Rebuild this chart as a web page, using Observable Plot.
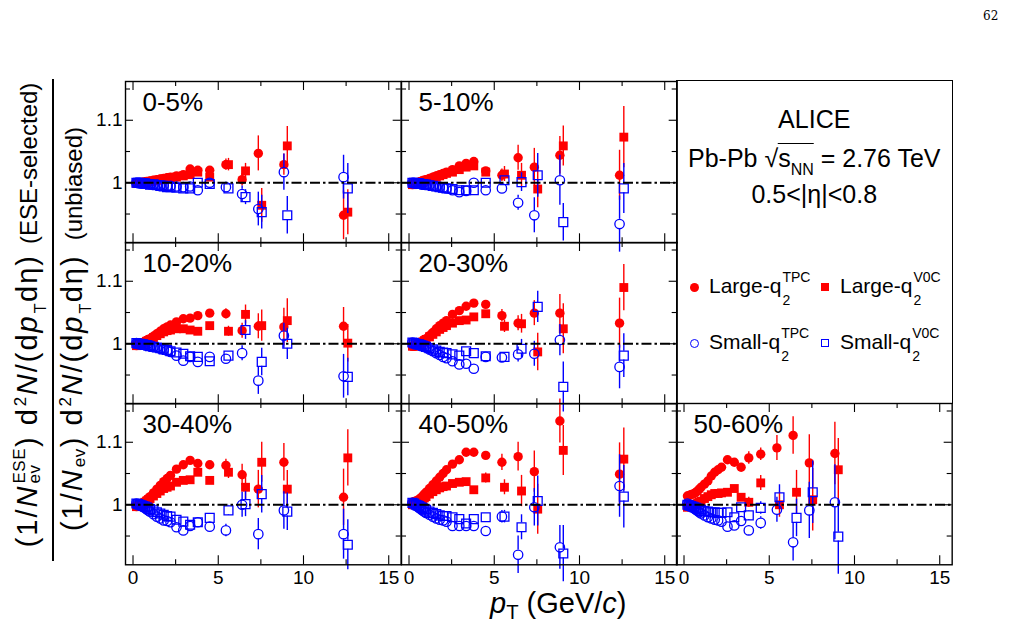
<!DOCTYPE html>
<html>
<head>
<meta charset="utf-8">
<script src="https://cdn.jsdelivr.net/npm/d3@7"></script>
<script src="https://cdn.jsdelivr.net/npm/@observablehq/plot@0.6"></script>
<style>
  html, body { margin: 0; padding: 0; background: #fff; }
  #figure { position: relative; width: 1018px; height: 637px; overflow: hidden;
    font-family: "Liberation Sans", Arial, Helvetica, sans-serif; color: #000; }
  .panel { position: absolute; }
  .panel svg { overflow: visible; display: block; }
  .txt { position: absolute; white-space: nowrap; }
  .stk { position: relative; display: inline-block; width: 0; height: 16px; }
  .stk .sp, .stk .sb { position: absolute; left: 1px; font-size: 14px; line-height: 14px; }
  .stk .sp { top: -7px; }
  .stk .sb { top: 16px; }
  .ovl { border-top: 1.4px solid #000; }
  .nn { font-size: 16px; line-height: 0; vertical-align: -8px; }
  .sym { position: absolute; box-sizing: border-box; }
  .ytitle { position: absolute; white-space: nowrap; font-size: 24px; line-height: 24px;
    transform: translate(-50%, -50%) rotate(-90deg); }
  .ytitle .m { font-size: 29px; letter-spacing: 2px; }
  .ytitle .gap { display: inline-block; width: 10px; }
  .ytitle .gap2 { display: inline-block; width: 14px; }
  .ytitle sup, .ytitle sub { line-height: 0; margin: 0 1px; letter-spacing: 0.5px; }
  .ytitle sup { font-size: 17px; vertical-align: 11px; }
  .ytitle sub { font-size: 16px; vertical-align: -9px; }
  .ytitle sub.ev { font-size: 17px; vertical-align: -3px; }
  .ss { display: inline-flex; flex-direction: column; font-size: 17px; line-height: 15px; vertical-align: 12px; letter-spacing: 0.5px; margin: 0 1px; }
  .xtitle sub { font-size: 0.7em; line-height: 0; vertical-align: -0.32em; }
  .fracbar { position: absolute; background: #000; }
  .pageno { position: absolute; font-family: "DejaVu Serif", "Liberation Serif", serif; font-size: 12px; }
</style>
</head>
<body>
<div id="figure"></div>
<script>
// pT bin positions (GeV/c) of the two event-shape selections
const pTBinsTPC = [0.2,0.3,0.4,0.5,0.6,0.7,0.8,0.9,1.0,1.2,1.4,1.6,1.8,2.0,2.2,2.55,2.95,3.35,3.8,4.5,5.45,6.4,7.35,8.85,12.35];
const pTBinsV0C = [0.2,0.3,0.4,0.5,0.6,0.7,0.8,0.9,1.0,1.2,1.4,1.6,1.8,2.0,2.2,2.55,2.95,3.35,3.8,4.5,5.6,6.6,7.55,9.05,12.6];

const centralityClasses = ["0-5%", "5-10%", "10-20%", "20-30%", "30-40%", "40-50%", "50-60%"];

// Spectrum ratios (ESE-selected / unbiased) and their uncertainties
const cent0_5 = {
  largeTPC:    [0.999,0.999,1.000,1.000,1.001,1.001,1.002,1.002,1.003,1.004,1.005,1.006,1.007,1.008,1.009,1.011,1.013,1.022,1.020,1.020,1.029,1.005,1.047,1.029,0.948],
  largeTPCErr: [0.001,0.001,0.001,0.001,0.001,0.001,0.001,0.001,0.001,0.001,0.001,0.001,0.001,0.001,0.002,0.002,0.002,0.003,0.003,0.004,0.009,0.010,0.028,0.017,0.039],
  largeV0C:    [0.999,0.999,0.999,1.000,1.000,1.001,1.001,1.002,1.002,1.003,1.004,1.005,1.006,1.007,1.008,1.009,1.011,1.013,1.017,1.009,1.029,1.019,0.964,1.059,0.953],
  largeV0CErr: [0.001,0.001,0.001,0.001,0.001,0.001,0.001,0.001,0.001,0.001,0.001,0.001,0.001,0.001,0.002,0.002,0.002,0.003,0.003,0.004,0.010,0.012,0.027,0.031,0.036],
  smallTPC:    [1.000,1.000,1.000,0.999,0.999,0.999,0.998,0.998,0.998,0.997,0.997,0.996,0.996,0.995,0.995,0.994,0.993,0.994,0.988,1.000,0.993,0.982,0.958,1.017,1.009],
  smallTPCErr: [0.001,0.001,0.001,0.001,0.001,0.001,0.001,0.001,0.001,0.001,0.001,0.001,0.001,0.001,0.002,0.002,0.002,0.003,0.003,0.003,0.008,0.013,0.027,0.029,0.035],
  smallV0C:    [1.000,1.000,1.000,0.999,0.999,0.999,0.998,0.998,0.997,0.997,0.996,0.995,0.994,0.993,0.993,0.992,0.991,0.991,1.000,0.998,0.991,0.977,0.953,0.948,0.991],
  smallV0CErr: [0.001,0.001,0.001,0.001,0.001,0.001,0.001,0.001,0.001,0.001,0.001,0.001,0.001,0.001,0.002,0.002,0.002,0.003,0.003,0.003,0.005,0.012,0.027,0.030,0.040]
};
const cent5_10 = {
  largeTPC:    [0.997,0.998,0.999,1.000,1.001,1.002,1.003,1.004,1.005,1.007,1.009,1.011,1.013,1.015,1.017,1.021,1.027,1.031,1.034,1.019,1.012,1.040,1.025,1.044,1.012],
  largeTPCErr: [0.001,0.001,0.001,0.001,0.001,0.001,0.001,0.001,0.001,0.001,0.001,0.001,0.001,0.001,0.002,0.002,0.003,0.003,0.004,0.005,0.010,0.020,0.030,0.030,0.040],
  largeV0C:    [0.997,0.998,0.998,0.999,1.000,1.001,1.002,1.003,1.004,1.005,1.007,1.009,1.011,1.013,1.015,1.017,1.021,1.025,1.027,1.017,1.014,1.012,0.990,1.059,1.073],
  largeV0CErr: [0.001,0.001,0.001,0.001,0.001,0.001,0.001,0.001,0.001,0.001,0.001,0.001,0.001,0.001,0.002,0.002,0.003,0.003,0.004,0.005,0.012,0.019,0.030,0.032,0.049],
  smallTPC:    [1.000,1.000,0.999,0.999,0.999,0.998,0.998,0.997,0.997,0.996,0.995,0.994,0.993,0.992,0.991,0.988,0.985,0.987,1.000,0.988,0.991,0.968,0.948,1.004,0.934],
  smallTPCErr: [0.001,0.001,0.001,0.001,0.001,0.001,0.001,0.001,0.001,0.001,0.001,0.001,0.001,0.001,0.002,0.002,0.003,0.003,0.004,0.004,0.007,0.012,0.028,0.040,0.045],
  smallV0C:    [1.000,1.000,0.999,0.999,0.999,0.998,0.998,0.997,0.997,0.996,0.995,0.994,0.993,0.992,0.991,0.990,0.988,0.988,0.988,1.000,1.004,1.001,1.012,0.937,0.991],
  smallV0CErr: [0.001,0.001,0.001,0.001,0.001,0.001,0.001,0.001,0.001,0.001,0.001,0.001,0.001,0.001,0.002,0.002,0.003,0.003,0.004,0.004,0.006,0.015,0.035,0.030,0.040]
};
const cent10_20 = {
  largeTPC:    [0.997,0.998,0.999,1.001,1.002,1.004,1.005,1.007,1.008,1.012,1.016,1.020,1.024,1.027,1.030,1.035,1.040,1.041,1.045,1.049,1.048,1.021,1.028,1.027,1.028],
  largeTPCErr: [0.001,0.001,0.001,0.001,0.001,0.001,0.001,0.001,0.001,0.001,0.001,0.001,0.001,0.001,0.002,0.002,0.003,0.003,0.003,0.004,0.008,0.012,0.020,0.030,0.030],
  largeV0C:    [0.997,0.998,0.999,1.000,1.001,1.002,1.004,1.005,1.007,1.010,1.013,1.016,1.019,1.021,1.022,1.024,1.024,1.022,1.020,1.029,1.020,1.047,1.029,1.037,1.001],
  largeV0CErr: [0.001,0.001,0.001,0.001,0.001,0.001,0.001,0.001,0.001,0.001,0.001,0.001,0.001,0.001,0.002,0.002,0.003,0.003,0.003,0.004,0.008,0.015,0.025,0.035,0.030],
  smallTPC:    [1.001,1.000,1.000,0.999,0.999,0.998,0.998,0.997,0.996,0.995,0.994,0.992,0.991,0.989,0.987,0.981,0.973,0.979,0.971,0.979,0.976,0.985,0.941,1.013,0.948],
  smallTPCErr: [0.001,0.001,0.001,0.001,0.001,0.001,0.001,0.001,0.001,0.001,0.001,0.001,0.001,0.001,0.002,0.002,0.003,0.003,0.003,0.004,0.005,0.012,0.022,0.020,0.035],
  smallV0C:    [1.001,1.000,1.000,0.999,0.999,0.998,0.998,0.997,0.996,0.995,0.994,0.993,0.991,0.990,0.988,0.986,0.984,0.980,0.979,0.972,0.981,1.022,0.971,1.000,0.947],
  smallV0CErr: [0.001,0.001,0.001,0.001,0.001,0.001,0.001,0.001,0.001,0.001,0.001,0.001,0.001,0.001,0.002,0.002,0.003,0.003,0.003,0.004,0.005,0.015,0.022,0.025,0.030]
};
const cent20_30 = {
  largeTPC:    [0.996,0.996,0.997,0.998,1.000,1.002,1.004,1.006,1.008,1.013,1.018,1.024,1.029,1.033,1.037,1.047,1.053,1.060,1.065,1.063,1.045,1.033,1.049,1.049,1.033],
  largeTPCErr: [0.001,0.001,0.001,0.001,0.001,0.001,0.001,0.001,0.001,0.001,0.001,0.001,0.001,0.001,0.002,0.002,0.003,0.003,0.003,0.004,0.010,0.012,0.020,0.030,0.040],
  largeV0C:    [0.996,0.996,0.997,0.998,0.999,1.001,1.003,1.005,1.007,1.011,1.015,1.019,1.023,1.026,1.029,1.033,1.037,1.038,1.043,1.048,1.028,1.032,0.987,1.024,1.090],
  largeV0CErr: [0.001,0.001,0.001,0.001,0.001,0.001,0.001,0.001,0.001,0.001,0.001,0.001,0.001,0.001,0.002,0.002,0.003,0.003,0.003,0.004,0.010,0.015,0.030,0.040,0.037],
  smallTPC:    [1.002,1.001,1.000,0.999,0.998,0.997,0.996,0.995,0.994,0.991,0.988,0.985,0.982,0.979,0.977,0.972,0.967,0.968,0.960,0.979,0.978,0.983,0.984,1.006,0.963],
  smallTPCErr: [0.001,0.001,0.001,0.001,0.001,0.001,0.001,0.001,0.001,0.001,0.001,0.001,0.001,0.001,0.002,0.002,0.003,0.003,0.003,0.004,0.005,0.012,0.020,0.025,0.035],
  smallV0C:    [1.002,1.001,1.000,0.999,0.999,0.998,0.997,0.996,0.995,0.993,0.991,0.989,0.987,0.986,0.985,0.983,0.981,0.988,0.985,0.980,0.979,0.992,1.059,0.931,0.981],
  smallV0CErr: [0.001,0.001,0.001,0.001,0.001,0.001,0.001,0.001,0.001,0.001,0.001,0.001,0.001,0.001,0.002,0.002,0.003,0.003,0.003,0.004,0.005,0.015,0.025,0.040,0.035]
};
const cent30_40 = {
  largeTPC:    [0.997,0.998,0.999,1.001,1.003,1.005,1.008,1.010,1.013,1.019,1.025,1.031,1.037,1.042,1.047,1.057,1.064,1.071,1.066,1.064,1.063,1.048,1.025,1.068,1.012],
  largeTPCErr: [0.001,0.001,0.001,0.001,0.001,0.001,0.001,0.001,0.001,0.001,0.001,0.001,0.001,0.001,0.002,0.002,0.003,0.003,0.004,0.005,0.010,0.017,0.030,0.030,0.045],
  largeV0C:    [0.997,0.998,0.999,1.000,1.002,1.004,1.006,1.008,1.010,1.014,1.018,1.022,1.026,1.028,1.030,1.036,1.039,1.040,1.052,1.039,1.052,1.028,1.068,1.025,1.075],
  largeV0CErr: [0.001,0.001,0.001,0.001,0.001,0.001,0.001,0.001,0.001,0.001,0.001,0.001,0.001,0.001,0.002,0.002,0.003,0.003,0.004,0.005,0.010,0.020,0.032,0.030,0.045],
  smallTPC:    [1.002,1.001,1.000,0.999,0.997,0.995,0.993,0.991,0.989,0.985,0.981,0.978,0.975,0.974,0.972,0.964,0.959,0.966,0.972,0.965,0.959,1.000,0.953,0.991,0.953],
  smallTPCErr: [0.001,0.001,0.001,0.001,0.001,0.001,0.001,0.001,0.001,0.001,0.001,0.001,0.001,0.001,0.002,0.002,0.003,0.003,0.004,0.005,0.010,0.020,0.025,0.030,0.040],
  smallV0C:    [1.002,1.001,1.000,0.999,0.998,0.997,0.996,0.994,0.993,0.991,0.988,0.986,0.984,0.982,0.981,0.976,0.973,0.968,0.972,0.979,0.991,1.001,1.017,0.989,0.936],
  smallV0CErr: [0.001,0.001,0.001,0.001,0.001,0.001,0.001,0.001,0.001,0.001,0.001,0.001,0.001,0.001,0.002,0.002,0.003,0.003,0.004,0.004,0.008,0.020,0.030,0.030,0.040]
};
const cent40_50 = {
  largeTPC:    [1.004,1.005,1.006,1.007,1.009,1.011,1.014,1.017,1.020,1.026,1.032,1.038,1.044,1.050,1.056,1.065,1.072,1.084,1.084,1.079,1.068,1.077,1.053,1.134,1.049],
  largeTPCErr: [0.001,0.001,0.001,0.001,0.001,0.001,0.001,0.001,0.001,0.001,0.001,0.001,0.001,0.001,0.002,0.003,0.003,0.004,0.005,0.006,0.013,0.023,0.033,0.035,0.050],
  largeV0C:    [1.000,1.001,1.002,1.003,1.005,1.007,1.009,1.011,1.013,1.017,1.021,1.024,1.027,1.029,1.030,1.034,1.036,1.037,1.024,1.043,1.028,1.022,0.993,1.087,1.073],
  largeV0CErr: [0.001,0.001,0.001,0.001,0.001,0.001,0.001,0.001,0.001,0.001,0.001,0.001,0.001,0.001,0.002,0.003,0.003,0.004,0.005,0.008,0.012,0.025,0.040,0.040,0.050],
  smallTPC:    [1.003,1.001,0.999,0.997,0.995,0.993,0.991,0.989,0.987,0.984,0.981,0.978,0.976,0.975,0.973,0.966,0.966,0.966,0.966,0.958,0.981,0.920,0.996,0.932,1.030],
  smallTPCErr: [0.001,0.001,0.001,0.001,0.001,0.001,0.001,0.001,0.001,0.001,0.001,0.001,0.001,0.001,0.002,0.003,0.003,0.004,0.004,0.005,0.010,0.030,0.030,0.035,0.050],
  smallV0C:    [1.003,1.002,1.000,0.999,0.998,0.996,0.995,0.993,0.992,0.989,0.987,0.985,0.983,0.982,0.982,0.980,0.977,0.970,0.977,0.980,0.981,0.964,1.006,0.922,1.013],
  smallV0CErr: [0.001,0.001,0.001,0.001,0.001,0.001,0.001,0.001,0.001,0.001,0.001,0.001,0.001,0.001,0.002,0.003,0.003,0.004,0.004,0.005,0.010,0.020,0.040,0.045,0.050]
};
const cent50_60 = {
  largeTPC:    [1.014,1.015,1.016,1.017,1.018,1.020,1.022,1.025,1.028,1.033,1.038,1.046,1.052,1.056,1.060,1.072,1.068,1.060,1.075,1.081,1.091,1.111,1.067,1.082,null],
  largeTPCErr: [0.001,0.001,0.001,0.001,0.001,0.001,0.001,0.001,0.001,0.001,0.001,0.001,0.001,0.001,0.003,0.004,0.005,0.006,0.010,0.010,0.020,0.030,0.045,0.050,null],
  largeV0C:    [0.996,0.997,0.998,0.999,1.000,1.001,1.003,1.004,1.006,1.010,1.013,1.016,1.018,1.018,1.019,1.020,1.026,1.012,1.004,1.035,1.000,1.020,1.008,1.056,null],
  largeV0CErr: [0.001,0.001,0.001,0.001,0.001,0.001,0.001,0.001,0.001,0.001,0.001,0.001,0.001,0.001,0.003,0.004,0.005,0.006,0.008,0.012,0.020,0.035,0.050,0.050,null],
  smallTPC:    [1.002,1.000,0.998,0.996,0.994,0.992,0.990,0.988,0.986,0.983,0.980,0.978,0.976,0.975,0.973,0.965,0.967,0.974,0.959,0.971,0.992,0.940,0.991,1.004,null],
  smallTPCErr: [0.001,0.001,0.001,0.001,0.001,0.001,0.001,0.001,0.001,0.001,0.001,0.001,0.001,0.001,0.003,0.004,0.005,0.006,0.008,0.010,0.020,0.030,0.045,0.060,null],
  smallV0C:    [1.000,0.999,0.998,0.997,0.996,0.995,0.994,0.993,0.992,0.990,0.989,0.988,0.988,0.987,0.987,0.988,0.980,0.996,0.983,0.995,1.012,0.979,1.020,0.949,null],
  smallV0CErr: [0.001,0.001,0.001,0.001,0.001,0.001,0.001,0.001,0.001,0.001,0.001,0.001,0.001,0.001,0.003,0.004,0.005,0.006,0.008,0.010,0.020,0.030,0.050,0.060,null]
};
const classData = [cent0_5, cent5_10, cent10_20, cent20_30, cent30_40, cent40_50, cent50_60];

// Axis ticks
const xLabelTicks = [0, 5, 10, 15];
const xMinorTicks = [2.5, 7.5, 12.5];
const yLabelTicks = [1, 1.1];
const yMinorTicks = [0.95, 1.05, 1.15];

// Layout of the 3x3 grid (column, row) of each centrality class
const panelGrid = [[0, 0], [1, 0], [0, 1], [1, 1], [0, 2], [1, 2], [2, 2]];
const gridLeft = 125, gridTop = 80.6, panelW = 275.7, panelH = 161.3;
const xDomain = [-0.44, 15.73];
const yDomain = [0.904, 1.162];
const pxPerUnit = panelH / (yDomain[1] - yDomain[0]);

const seriesOrder = ["largeTPC", "largeV0C", "smallTPC", "smallV0C"];
const seriesLook = {
  largeTPC: {bins: pTBinsTPC, symbol: "circle", color: "#ff0000", filled: true, r: 4.7},
  largeV0C: {bins: pTBinsV0C, symbol: "square", color: "#ff0000", filled: true, r: 5.0},
  smallTPC: {bins: pTBinsTPC, symbol: "circle", color: "#0000ff", filled: false, r: 4.7},
  smallV0C: {bins: pTBinsV0C, symbol: "square", color: "#0000ff", filled: false, r: 5.0}
};

const fig = document.getElementById("figure");

function seriesMarks(data) {
  const marks = [];
  for (const key of seriesOrder) {
    const look = seriesLook[key];
    const rows = data[key]
      .map((v, i) => ({pT: look.bins[i], v, e: data[key + "Err"][i]}))
      .filter((d) => d.v != null);
    if (look.filled) {
      marks.push(Plot.ruleX(rows, {x: "pT", y1: (d) => d.v - d.e, y2: (d) => d.v + d.e, stroke: look.color, strokeWidth: 1.4}));
      marks.push(Plot.dot(rows, {x: "pT", y: "v", symbol: look.symbol, r: look.r, fill: look.color, stroke: "none"}));
    } else {
      // open markers: the error bar stops at the marker outline
      const gap = look.symbol === "square" ? look.r * 0.886 : look.r;
      const withBar = rows.filter((d) => d.e * pxPerUnit > gap);
      marks.push(Plot.ruleX(withBar, {x: "pT", y1: (d) => d.v + d.e, y2: "v", insetBottom: gap, stroke: look.color, strokeWidth: 1.4}));
      marks.push(Plot.ruleX(withBar, {x: "pT", y1: "v", y2: (d) => d.v - d.e, insetTop: gap, stroke: look.color, strokeWidth: 1.4}));
      marks.push(Plot.dot(rows, {x: "pT", y: "v", symbol: look.symbol, r: look.r, fill: "none", stroke: look.color, strokeWidth: 1.3}));
    }
  }
  return marks;
}

function frameTicks() {
  const tick = {stroke: "#000", strokeWidth: 1.1};
  return [
    Plot.tickX(xLabelTicks, {x: (d) => d, insetTop: panelH - 9, ...tick}),
    Plot.tickX(xMinorTicks, {x: (d) => d, insetTop: panelH - 5, ...tick}),
    Plot.tickX(xLabelTicks, {x: (d) => d, insetBottom: panelH - 9, ...tick}),
    Plot.tickX(xMinorTicks, {x: (d) => d, insetBottom: panelH - 5, ...tick}),
    Plot.tickY(yLabelTicks, {y: (d) => d, insetRight: panelW - 8, ...tick}),
    Plot.tickY(yMinorTicks, {y: (d) => d, insetRight: panelW - 5, ...tick}),
    Plot.tickY(yLabelTicks, {y: (d) => d, insetLeft: panelW - 8, ...tick}),
    Plot.tickY(yMinorTicks, {y: (d) => d, insetLeft: panelW - 5, ...tick})
  ];
}

function makePanel(label, data, col, row) {
  const marks = [
    ...seriesMarks(data),
    Plot.ruleY([1], {stroke: "#000", strokeWidth: 2.2, strokeDasharray: "10,3,2.5,3"}),
    ...frameTicks(),
    Plot.frame({stroke: "#000", strokeWidth: 1.4}),
    Plot.text([label], {text: (d) => d, frameAnchor: "top-left", dx: 17, dy: 11.5, textAnchor: "start", lineAnchor: "top", fontSize: 26, fill: "#000"})
  ];
  if (col === 0) {
    marks.push(Plot.axisY({ticks: yLabelTicks, tickSize: 0, tickPadding: 3, fontSize: 19, tickFormat: d3.format("~g"), label: null}));
  }
  if (row === 2) {
    marks.push(Plot.axisX({ticks: xLabelTicks, tickSize: 0, tickPadding: 6, fontSize: 19, tickFormat: d3.format("d"), label: null}));
  }
  return Plot.plot({
    width: panelW, height: panelH,
    marginTop: 0, marginRight: 0, marginBottom: 0, marginLeft: 0,
    x: {domain: xDomain, axis: null},
    y: {domain: yDomain, axis: null},
    style: {fontFamily: "'Liberation Sans', Arial, sans-serif", background: "transparent", overflow: "visible", color: "#000"},
    marks
  });
}

centralityClasses.forEach((label, i) => {
  const [col, row] = panelGrid[i];
  const holder = document.createElement("div");
  holder.className = "panel";
  holder.style.left = (gridLeft + col * panelW) + "px";
  holder.style.top = (gridTop + row * panelH) + "px";
  holder.appendChild(makePanel(label, classData[i], col, row));
  fig.appendChild(holder);
});

// Text placed by its baseline
function addText(html, x, baseline, size, anchor, extraClass) {
  const el = document.createElement("div");
  el.className = "txt" + (extraClass ? " " + extraClass : "");
  el.style.fontSize = size + "px";
  el.style.lineHeight = size + "px";
  el.style.left = x + "px";
  el.style.top = (baseline - 0.8465 * size) + "px";
  if (anchor === "middle") el.style.transform = "translateX(-50%)";
  el.innerHTML = html;
  fig.appendChild(el);
  return el;
}

// Information box spanning the two upper rows of the right column
const box = document.createElement("div");
box.style.cssText = `position:absolute; left:${gridLeft + 2 * panelW - 0.7}px; top:${gridTop - 0.7}px; width:${panelW}px; height:${2 * panelH}px; border:1.4px solid #000; box-sizing:content-box;`;
fig.appendChild(box);

const boxCenter = gridLeft + 2.5 * panelW;
addText("ALICE", boxCenter, 128, 25, "middle");
addText('Pb-Pb <span>&#8730;</span><span class="ovl">s<span class="nn">NN</span></span> = 2.76 TeV', boxCenter, 167, 25, "middle");
addText("0.5&lt;|&#951;|&lt;0.8", boxCenter, 203, 25, "middle");

const legendEntries = [
  {name: "Large", det: "TPC", color: "#ff0000", filled: true, shape: "circle"},
  {name: "Large", det: "V0C", color: "#ff0000", filled: true, shape: "square"},
  {name: "Small", det: "TPC", color: "#0000ff", filled: false, shape: "circle"},
  {name: "Small", det: "V0C", color: "#0000ff", filled: false, shape: "square"}
];
const legendCols = [{sym: 694, text: 709}, {sym: 825, text: 840}];
const legendRows = [{mid: 287, base: 293}, {mid: 343, base: 349}];
legendEntries.forEach((entry, i) => {
  const c = legendCols[i % 2], r = legendRows[Math.floor(i / 2)];
  const s = document.createElement("div");
  s.className = "sym";
  const size = entry.shape === "circle" ? 9 : 8.5;
  s.style.width = size + "px";
  s.style.height = size + "px";
  s.style.left = (c.sym - size / 2) + "px";
  s.style.top = (r.mid - size / 2) + "px";
  if (entry.shape === "circle") s.style.borderRadius = "50%";
  if (entry.filled) s.style.background = entry.color;
  else s.style.border = `1.5px solid ${entry.color}`;
  fig.appendChild(s);
  addText(`${entry.name}-q<span class="stk"><span class="sp">${entry.det}</span><span class="sb">2</span></span>`, c.text, r.base, 21, "start");
});

// Y title: ratio of ESE-selected to unbiased spectra
function addYTitle(html, cx, cy) {
  const el = document.createElement("div");
  el.className = "ytitle";
  el.style.left = cx + "px";
  el.style.top = cy + "px";
  el.innerHTML = html;
  fig.appendChild(el);
}
addYTitle('<span class="m">(1/<i>N</i><span class="ss"><span>ESE</span><span>ev</span></span>)</span><span class="gap"></span><span class="m">d<sup>2</sup><i>N</i>/(d<i>p</i><sub>T</sub>d&#951;)</span><span class="gap"></span>(ESE-selected)', 26.6, 315);
addYTitle('<span class="m">(1/<i>N</i><sub class="ev">ev</sub>)</span><span class="gap"></span><span class="m">d<sup>2</sup><i>N</i>/(d<i>p</i><sub>T</sub>d&#951;)</span><span class="gap2"></span>(unbiased)', 72.9, 329);
const bar = document.createElement("div");
bar.className = "fracbar";
bar.style.cssText += "left:52px; top:79px; width:1.6px; height:482px;";
fig.appendChild(bar);

// X title
addText('<i>p</i><sub>T</sub> (GeV/<i>c</i>)', 490, 614, 29, "start", "xtitle");

// page number
const pg = document.createElement("div");
pg.className = "pageno";
pg.style.left = "983px";
pg.style.top = "9px";
pg.textContent = "62";
fig.appendChild(pg);
</script>
</body>
</html>
